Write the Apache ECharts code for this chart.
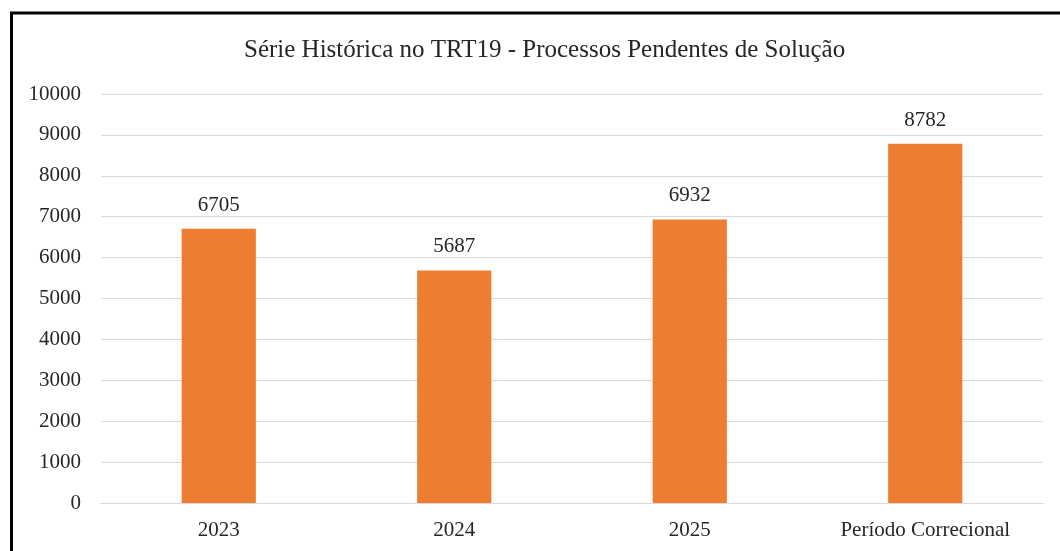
<!DOCTYPE html>
<html>
<head>
<meta charset="utf-8">
<script src="https://cdn.jsdelivr.net/npm/echarts@6/dist/echarts.min.js"></script>
<style>
  html, body { margin: 0; padding: 0; background: #fff; }
  #chart { width: 1060px; height: 551px; }
</style>
</head>
<body>
<div id="chart"></div>
<script>
  // categories and values
  const categories = ["2023", "2024", "2025", "Período Correcional"];
  const pendentes = [6705, 5687, 6932, 8782];
  const titleText = "Série Histórica no TRT19 - Processos Pendentes de Solução";

  const serif = "'Liberation Serif', 'DejaVu Serif', serif";
  const textColor = "#262626";

  const myChart = echarts.init(document.getElementById("chart"));

  const option = {
    backgroundColor: "#fff",
    animation: false,
    title: {
      text: titleText,
      left: 239,
      top: 33,
      textStyle: {
        fontFamily: serif,
        fontSize: 25,
        fontWeight: "normal",
        color: textColor
      }
    },
    grid: {
      left: 101,
      right: 17,
      top: 94,
      bottom: 48
    },
    xAxis: {
      type: "category",
      data: categories,
      axisLine: { show: true, lineStyle: { color: "#d9d9d9", width: 1 } },
      axisTick: { show: false },
      axisLabel: {
        fontFamily: serif,
        fontSize: 21,
        color: textColor,
        margin: 17
      }
    },
    yAxis: {
      type: "value",
      min: 0,
      max: 10000,
      interval: 1000,
      axisLine: { show: false },
      axisTick: { show: false },
      axisLabel: {
        fontFamily: serif,
        fontSize: 21,
        color: textColor,
        margin: 20,
        formatter: (v) => String(v)
      },
      splitLine: {
        lineStyle: { color: "#d9d9d9", width: 1 }
      }
    },
    series: [
      {
        name: "Pendentes",
        type: "bar",
        data: pendentes,
        barWidth: "31.5%",
        itemStyle: { color: "#ed7d31" },
        label: {
          show: true,
          position: "top",
          distance: 13,
          fontFamily: serif,
          fontSize: 21,
          color: textColor
        }
      }
    ],
    graphic: [
      {
        type: "rect",
        shape: { x: 11.5, y: 13, width: 1200, height: 700 },
        style: { fill: "none", stroke: "#000", lineWidth: 3 },
        silent: true
      }
    ]
  };

  myChart.setOption(option);
</script>
</body>
</html>
